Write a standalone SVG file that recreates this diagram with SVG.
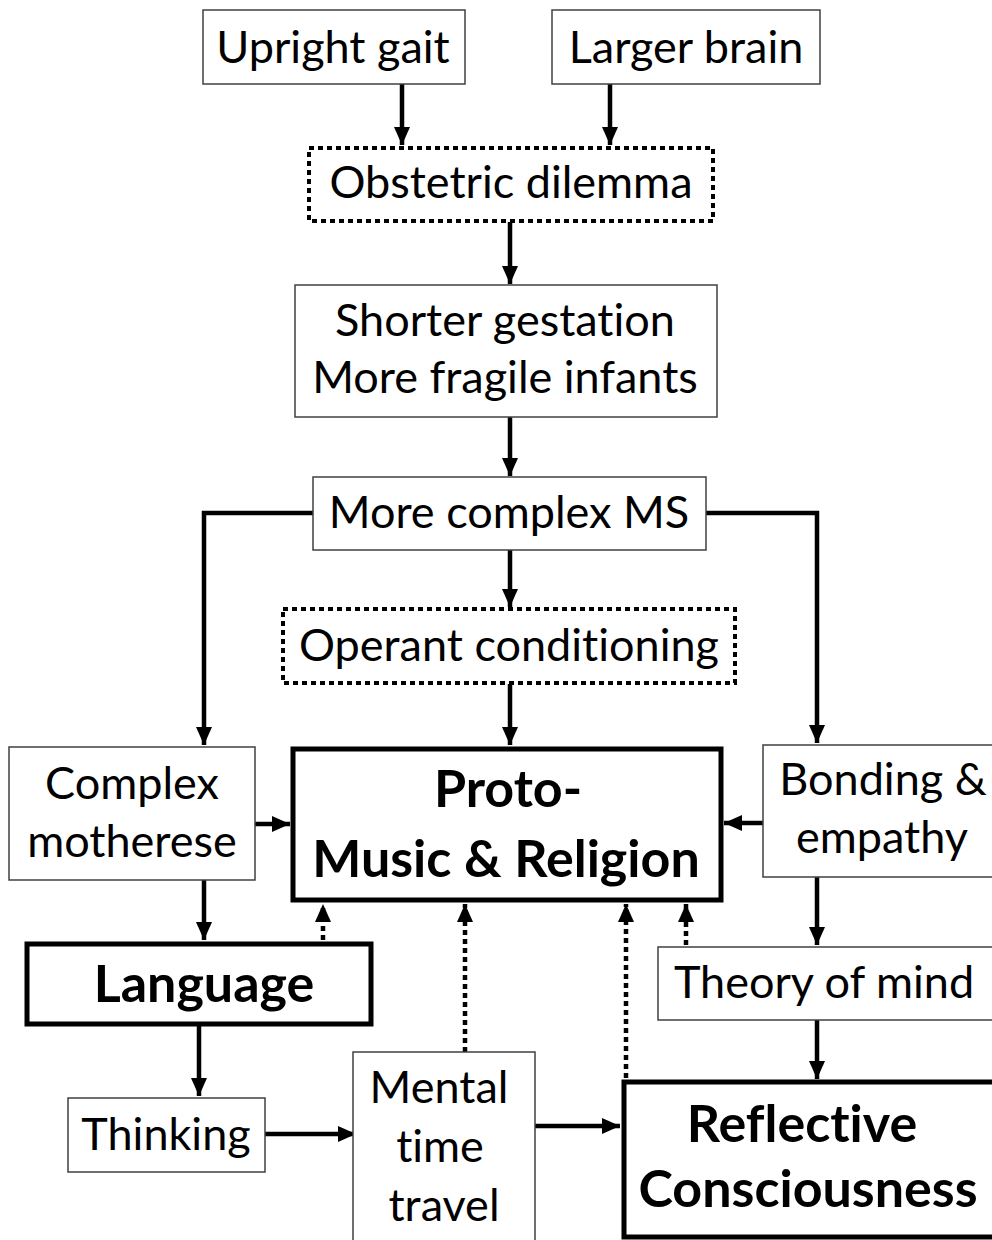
<svg xmlns="http://www.w3.org/2000/svg" width="992" height="1240" viewBox="0 0 992 1240">
<defs>
<marker id="ah" markerUnits="userSpaceOnUse" markerWidth="20" markerHeight="20" viewBox="0 0 20 20" refX="18" refY="10" orient="auto">
<path d="M0,2 L18,10 L0,18 Z" fill="#000"/>
</marker>
<style>
.bx{fill:#fff;stroke:#404040;stroke-width:1.5}
.bk{fill:#fff;stroke:#000;stroke-width:5}
.dt{fill:#fff;stroke:#000;stroke-width:4;stroke-dasharray:5 4}
.t{font-family:Lato,"Liberation Sans",sans-serif;font-size:45px;fill:#000;text-anchor:middle;font-variant-ligatures:none}
.b{font-family:Lato,"Liberation Sans",sans-serif;font-size:52px;font-weight:bold;fill:#000;text-anchor:middle;font-variant-ligatures:none}
.c{fill:none;stroke:#000;stroke-width:4.5}
.cd{fill:none;stroke:#000;stroke-width:4.5;stroke-dasharray:5 4}
</style>
</defs>
<rect width="992" height="1240" fill="#fff"/>
<g id="connectors">
<path class="c" d="M402,84 V145" marker-end="url(#ah)"/>
<path class="c" d="M610,84 V145" marker-end="url(#ah)"/>
<path class="c" d="M510,222 V284" marker-end="url(#ah)"/>
<path class="c" d="M510,417 V476" marker-end="url(#ah)"/>
<path class="c" d="M313,513 H204 V745" marker-end="url(#ah)"/>
<path class="c" d="M706,513 H817 V743" marker-end="url(#ah)"/>
<path class="c" d="M510,550 V607" marker-end="url(#ah)"/>
<path class="c" d="M510,684 V745" marker-end="url(#ah)"/>
<path class="c" d="M255,824 H290" marker-end="url(#ah)"/>
<path class="c" d="M763,823 H724" marker-end="url(#ah)"/>
<path class="c" d="M204,880 V940" marker-end="url(#ah)"/>
<path class="c" d="M817,877 V945" marker-end="url(#ah)"/>
<path class="c" d="M817,1020 V1079" marker-end="url(#ah)"/>
<path class="c" d="M199,1026 V1096" marker-end="url(#ah)"/>
<path class="c" d="M265,1134 H356" marker-end="url(#ah)"/>
<path class="c" d="M535,1126 H620" marker-end="url(#ah)"/>
<path class="cd" d="M323,940 V904" marker-end="url(#ah)"/>
<path class="cd" d="M465,1052 V904" marker-end="url(#ah)"/>
<path class="cd" d="M626,1078 V904" marker-end="url(#ah)"/>
<path class="cd" d="M686,945 V904" marker-end="url(#ah)"/>
</g>
<g id="upright-gait"><rect class="bx" x="203" y="10" width="262" height="74"/><text class="t" x="333" y="63">Upright gait</text></g>
<g id="larger-brain"><rect class="bx" x="552" y="10" width="268" height="74"/><text class="t" x="686" y="63">Larger brain</text></g>
<g id="obstetric-dilemma"><rect class="dt" x="309" y="148" width="404" height="73"/><text class="t" x="511" y="198">Obstetric dilemma</text></g>
<g id="shorter-gestation"><rect class="bx" x="295" y="285" width="422" height="132"/><text class="t" x="505" y="336">Shorter gestation</text><text class="t" x="505" y="393">More fragile infants</text></g>
<g id="more-complex-ms"><rect class="bx" x="313" y="477" width="393" height="73"/><text class="t" x="509" y="528">More complex MS</text></g>
<g id="operant-conditioning"><rect class="dt" x="283" y="609" width="452" height="74"/><text class="t" x="509" y="661">Operant conditioning</text></g>
<g id="proto-music-religion"><rect class="bk" x="293" y="749" width="428" height="151"/><text class="b" x="508" y="807">Proto-</text><text class="b" x="506" y="877">Music &amp; Religion</text></g>
<g id="complex-motherese"><rect class="bx" x="9" y="747" width="246" height="133"/><text class="t" x="132" y="799">Complex</text><text class="t" x="132" y="857">motherese</text></g>
<g id="bonding-empathy"><rect class="bx" x="763" y="745" width="232" height="132"/><text class="t" x="883" y="795">Bonding &amp;</text><text class="t" x="882" y="853">empathy</text></g>
<g id="language"><rect class="bk" x="27" y="944" width="344" height="80"/><text class="b" x="204" y="1002">Language</text></g>
<g id="theory-of-mind"><rect class="bx" x="658" y="947" width="337" height="73"/><text class="t" x="824" y="998">Theory of mind</text></g>
<g id="thinking"><rect class="bx" x="68" y="1098" width="197" height="74"/><text class="t" x="166" y="1150">Thinking</text></g>
<g id="mental-time-travel"><rect class="bx" x="353" y="1052" width="182" height="195"/><text class="t" x="439" y="1103">Mental</text><text class="t" x="440" y="1162">time</text><text class="t" x="444" y="1221">travel</text></g>
<g id="reflective-consciousness"><rect class="bk" x="624" y="1082" width="372" height="155"/><text class="b" x="802" y="1142">Reflective</text><text class="b" x="808" y="1207">Consciousness</text></g>
</svg>
